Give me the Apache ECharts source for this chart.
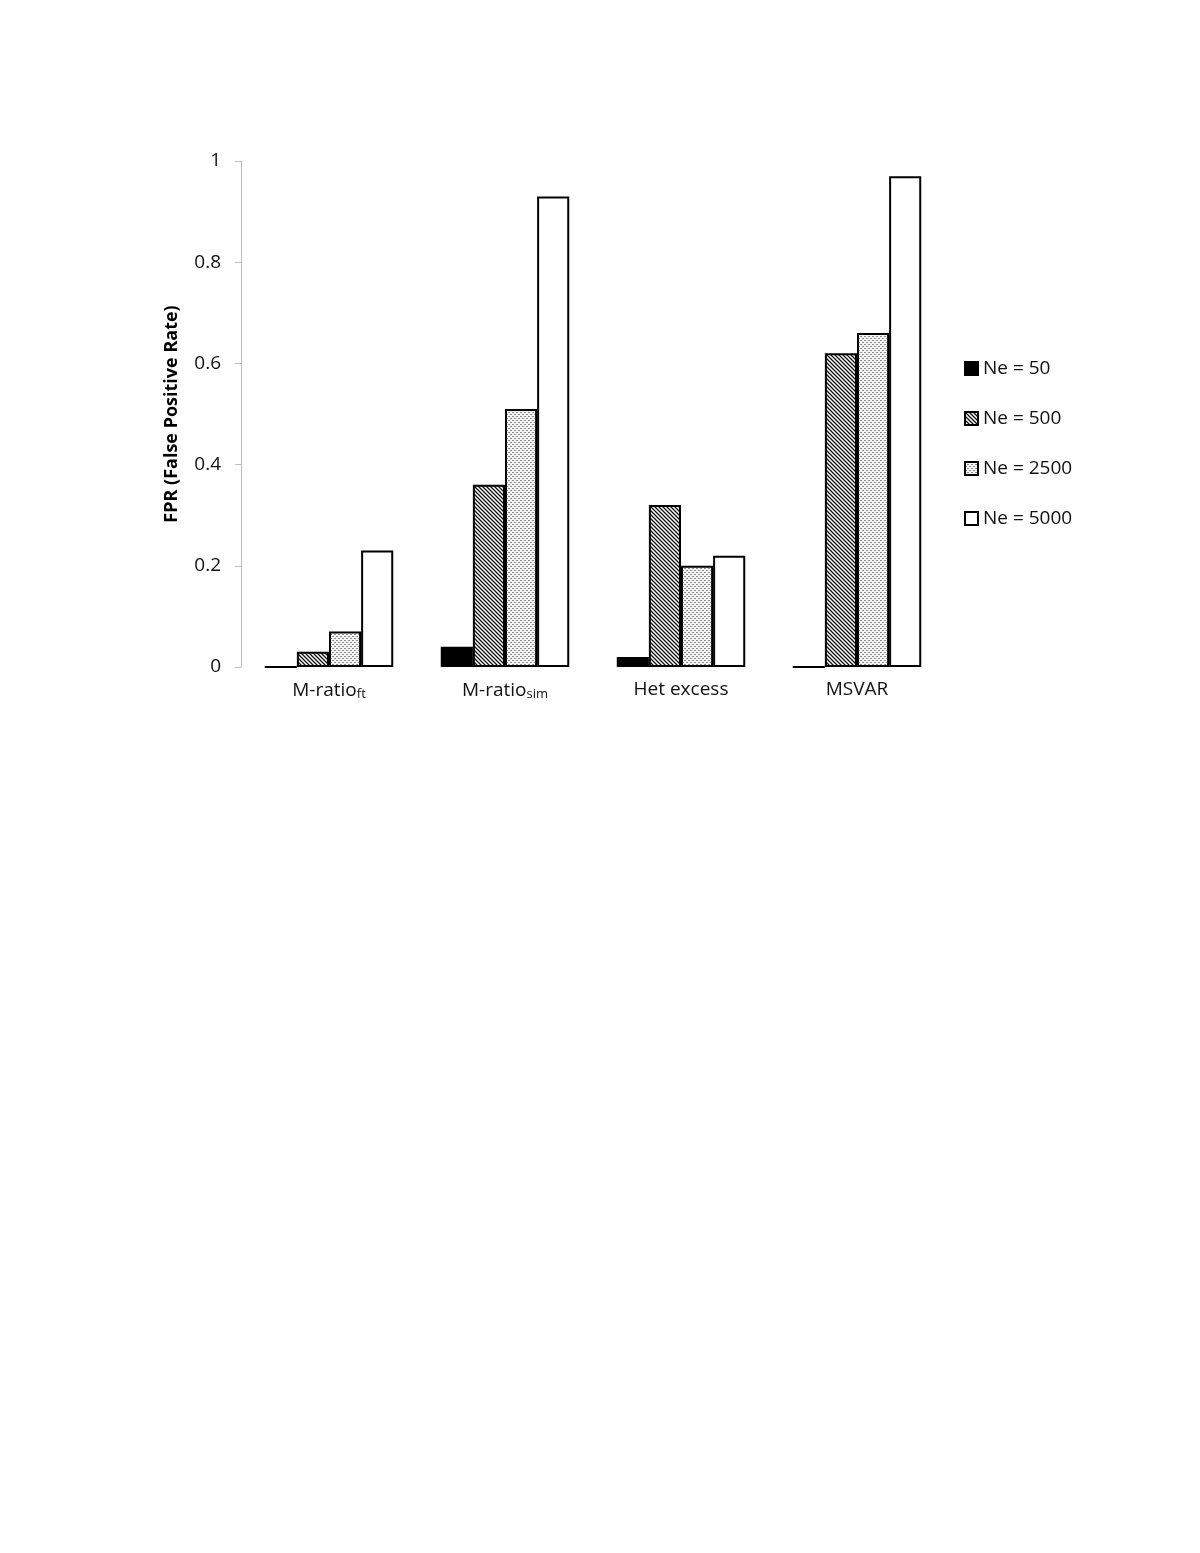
<!DOCTYPE html>
<html>
<head>
<meta charset="utf-8">
<script src="https://cdn.jsdelivr.net/npm/echarts@6/dist/echarts.min.js"></script>
<style>
  html, body { margin: 0; padding: 0; background: #fff; }
  #chart { width: 1200px; height: 1553px; }
</style>
</head>
<body>
<div id="chart"></div>
<script>
// categories (suffix after "_" is drawn as subscript)
const categories = ['M-ratio_ft', 'M-ratio_sim', 'Het excess', 'MSVAR']
const seriesNames = ['Ne = 50', 'Ne = 500', 'Ne = 2500', 'Ne = 5000']
// FPR values per Ne, in category order
const ne50 = [0, 0.04, 0.02, 0]
const ne500 = [0.03, 0.36, 0.32, 0.62]
const ne2500 = [0.07, 0.51, 0.20, 0.66]
const ne5000 = [0.23, 0.93, 0.22, 0.97]
const yTicks = [0, 0.2, 0.4, 0.6, 0.8, 1]

// fill patterns
function hatchCanvas() {
  const c = document.createElement('canvas')
  c.width = 4; c.height = 4
  const g = c.getContext('2d')
  g.fillStyle = '#fff'; g.fillRect(0, 0, 4, 4)
  g.strokeStyle = '#111'; g.lineWidth = 1.3
  g.beginPath()
  g.moveTo(-1, -1); g.lineTo(5, 5)
  g.moveTo(-1, 3); g.lineTo(1, 5)
  g.moveTo(3, -1); g.lineTo(5, 1)
  g.stroke()
  return c
}
function dotCanvas() {
  const c = document.createElement('canvas')
  c.width = 4; c.height = 4
  const g = c.getContext('2d')
  g.fillStyle = '#f4f4f4'; g.fillRect(0, 0, 4, 4)
  g.fillStyle = '#8c8c8c'
  g.fillRect(0, 0, 2, 1)
  g.fillRect(2, 2, 2, 1)
  return c
}

const fills = [
  '#000',
  { image: hatchCanvas(), repeat: 'repeat' },
  { image: dotCanvas(), repeat: 'repeat' },
  '#fff'
]
const values = [ne50, ne500, ne2500, ne5000]

const chart = echarts.init(document.getElementById('chart'), null, { renderer: 'canvas' })

const font = '"Open Sans", "Noto Sans", sans-serif'

chart.setOption({
  animation: false,
  backgroundColor: '#fff',
  grid: { left: 241, right: 255, top: 161, bottom: 886, containLabel: false },
  legend: {
    orient: 'vertical',
    left: 959,
    top: 354,
    itemWidth: 13,
    itemHeight: 13,
    itemGap: 31,
    icon: 'rect',
    data: seriesNames,
    textStyle: { fontFamily: font, fontSize: 19, color: '#111', padding: [0, 0, 0, 0] }
  },
  xAxis: {
    type: 'category',
    data: categories,
    axisLine: { show: false },
    axisTick: { show: false },
    axisLabel: {
      interval: 0,
      margin: 13,
      fontFamily: font,
      fontSize: 19,
      color: '#111',
      formatter: v => {
        const p = v.split('_')
        return p.length > 1 ? p[0] + '{sub|' + p[1] + '}' : v
      },
      rich: {
        sub: { fontFamily: font, fontSize: 13, color: '#111', verticalAlign: 'bottom', padding: [8, 0, 0, 0] }
      }
    }
  },
  yAxis: {
    type: 'value',
    min: 0,
    max: 1,
    interval: 0.2,
    name: 'FPR (False Positive Rate)',
    nameLocation: 'middle',
    nameGap: 60,
    nameTextStyle: { fontFamily: font, fontSize: 18, fontWeight: 'bold', color: '#000' },
    axisLine: { show: true, lineStyle: { color: '#bdbdbd', width: 1 } },
    axisTick: { show: true, inside: false, length: 6, lineStyle: { color: '#bdbdbd' } },
    splitLine: { show: false },
    axisLabel: {
      margin: 20,
      fontFamily: font,
      fontSize: 19,
      color: '#111',
      formatter: v => {
        const t = yTicks.find(x => Math.abs(x - v) < 1e-9)
        return t === undefined ? '' : String(t)
      }
    }
  },
  series: seriesNames.map((name, i) => ({
    name,
    type: 'bar',
    data: values[i],
    barGap: '0%',
    barCategoryGap: '27%',
    itemStyle: { color: fills[i], borderColor: '#000', borderWidth: 2 },
    emphasis: { disabled: true }
  }))
})
</script>
</body>
</html>
